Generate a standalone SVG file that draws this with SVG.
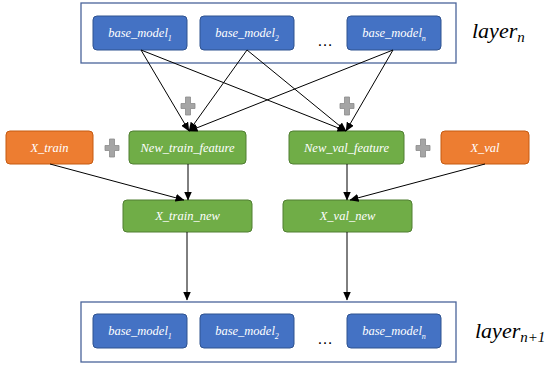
<svg xmlns="http://www.w3.org/2000/svg" width="551" height="367" viewBox="0 0 551 367">
<style>
.container{fill:#fff;stroke:#4a649a;stroke-width:1.3}
.blue{fill:#4472c4;stroke:#2f528f;stroke-width:1}
.orange{fill:#ed7d31;stroke:#c55a11;stroke-width:1}
.green{fill:#70ad47;stroke:#507e32;stroke-width:1}
.lbl{font-family:"Liberation Serif","DejaVu Serif",serif;font-style:italic;font-size:12.5px;fill:#fff;text-anchor:middle}
.sub{font-size:8px}
.dots{font-family:"Liberation Sans",sans-serif;font-size:16px;fill:#000;text-anchor:middle}
.layer{font-family:"Liberation Serif","DejaVu Serif",serif;font-style:italic;font-size:22px;fill:#000}
.conn line{stroke:#000;stroke-width:1;fill:none}
.plus{fill:#a5a5a5;stroke:#8a8a8a;stroke-width:0.8}
</style>
<defs>
<marker id="arr" markerUnits="userSpaceOnUse" markerWidth="9" markerHeight="8" refX="8.5" refY="4" orient="auto">
<path d="M0,0 L9,4 L0,8 z" fill="#000"/>
</marker>
<path id="plus" d="M-2.5,-9 H2.5 V-2.5 H7 V2.5 H2.5 V9 H-2.5 V2.5 H-7 V-2.5 H-2.5 Z"/>
</defs>

<g id="layer-n">
<rect class="container" x="81" y="3" width="375" height="60"/>
<text class="layer" x="472" y="38">layer<tspan font-size="15" dy="4">n</tspan></text>
</g>
<g id="top-bm1"><rect class="blue" x="93" y="16" width="94" height="34" rx="4"/><text class="lbl" x="140" y="37">base_model<tspan class="sub" dy="3.5">1</tspan></text></g>
<g id="top-bm2"><rect class="blue" x="200" y="16" width="94" height="34" rx="4"/><text class="lbl" x="247" y="37">base_model<tspan class="sub" dy="3.5">2</tspan></text></g>
<g id="top-dots"><text class="dots" x="325" y="46">…</text></g>
<g id="top-bmn"><rect class="blue" x="347" y="16" width="94" height="34" rx="4"/><text class="lbl" x="394" y="37">base_model<tspan class="sub" dy="3.5">n</tspan></text></g>

<g id="x-train"><rect class="orange" x="6" y="131" width="87" height="33" rx="4"/><text class="lbl" x="49.5" y="152">X_train</text></g>
<g id="new-train-feature"><rect class="green" x="129" y="131" width="117" height="33" rx="4"/><text class="lbl" x="187.5" y="152">New_train_feature</text></g>
<g id="new-val-feature"><rect class="green" x="289" y="131" width="115" height="33" rx="4"/><text class="lbl" x="346.5" y="152">New_val_feature</text></g>
<g id="x-val"><rect class="orange" x="441" y="131" width="88" height="33" rx="4"/><text class="lbl" x="485" y="152">X_val</text></g>

<g id="x-train-new"><rect class="green" x="123" y="200" width="129" height="32" rx="4"/><text class="lbl" x="187.5" y="220">X_train_new</text></g>
<g id="x-val-new"><rect class="green" x="283" y="200" width="129" height="32" rx="4"/><text class="lbl" x="347.5" y="220">X_val_new</text></g>

<g id="plus-signs">
<use href="#plus" class="plus" x="188" y="106"/>
<use href="#plus" class="plus" x="347" y="106"/>
<use href="#plus" class="plus" x="112" y="148"/>
<use href="#plus" class="plus" x="423" y="148"/>
</g>

<g id="layer-n1">
<rect class="container" x="81" y="302" width="375" height="60"/>
<text class="layer" x="475" y="338">layer<tspan font-size="15" dy="4">n+1</tspan></text>
</g>
<g id="bot-bm1"><rect class="blue" x="93" y="314" width="94" height="34" rx="4"/><text class="lbl" x="140" y="335">base_model<tspan class="sub" dy="3.5">1</tspan></text></g>
<g id="bot-bm2"><rect class="blue" x="200" y="314" width="94" height="34" rx="4"/><text class="lbl" x="247" y="335">base_model<tspan class="sub" dy="3.5">2</tspan></text></g>
<g id="bot-dots"><text class="dots" x="325" y="344">…</text></g>
<g id="bot-bmn"><rect class="blue" x="347" y="314" width="94" height="34" rx="4"/><text class="lbl" x="394" y="335">base_model<tspan class="sub" dy="3.5">n</tspan></text></g>

<g id="connectors" class="conn">
<line x1="141" y1="50" x2="189" y2="131" marker-end="url(#arr)"/>
<line x1="247" y1="50" x2="189" y2="131" marker-end="url(#arr)"/>
<line x1="393" y1="50" x2="189" y2="131" marker-end="url(#arr)"/>
<line x1="141" y1="50" x2="346" y2="131" marker-end="url(#arr)"/>
<line x1="247" y1="50" x2="346" y2="131" marker-end="url(#arr)"/>
<line x1="393" y1="50" x2="346" y2="131" marker-end="url(#arr)"/>
<line x1="188" y1="164" x2="188" y2="200" marker-end="url(#arr)"/>
<line x1="50" y1="164" x2="184" y2="200" marker-end="url(#arr)"/>
<line x1="347" y1="164" x2="347" y2="200" marker-end="url(#arr)"/>
<line x1="485" y1="164" x2="350" y2="200" marker-end="url(#arr)"/>
<line x1="187" y1="232" x2="187" y2="300" marker-end="url(#arr)"/>
<line x1="347" y1="232" x2="347" y2="300" marker-end="url(#arr)"/>
</g>
</svg>
